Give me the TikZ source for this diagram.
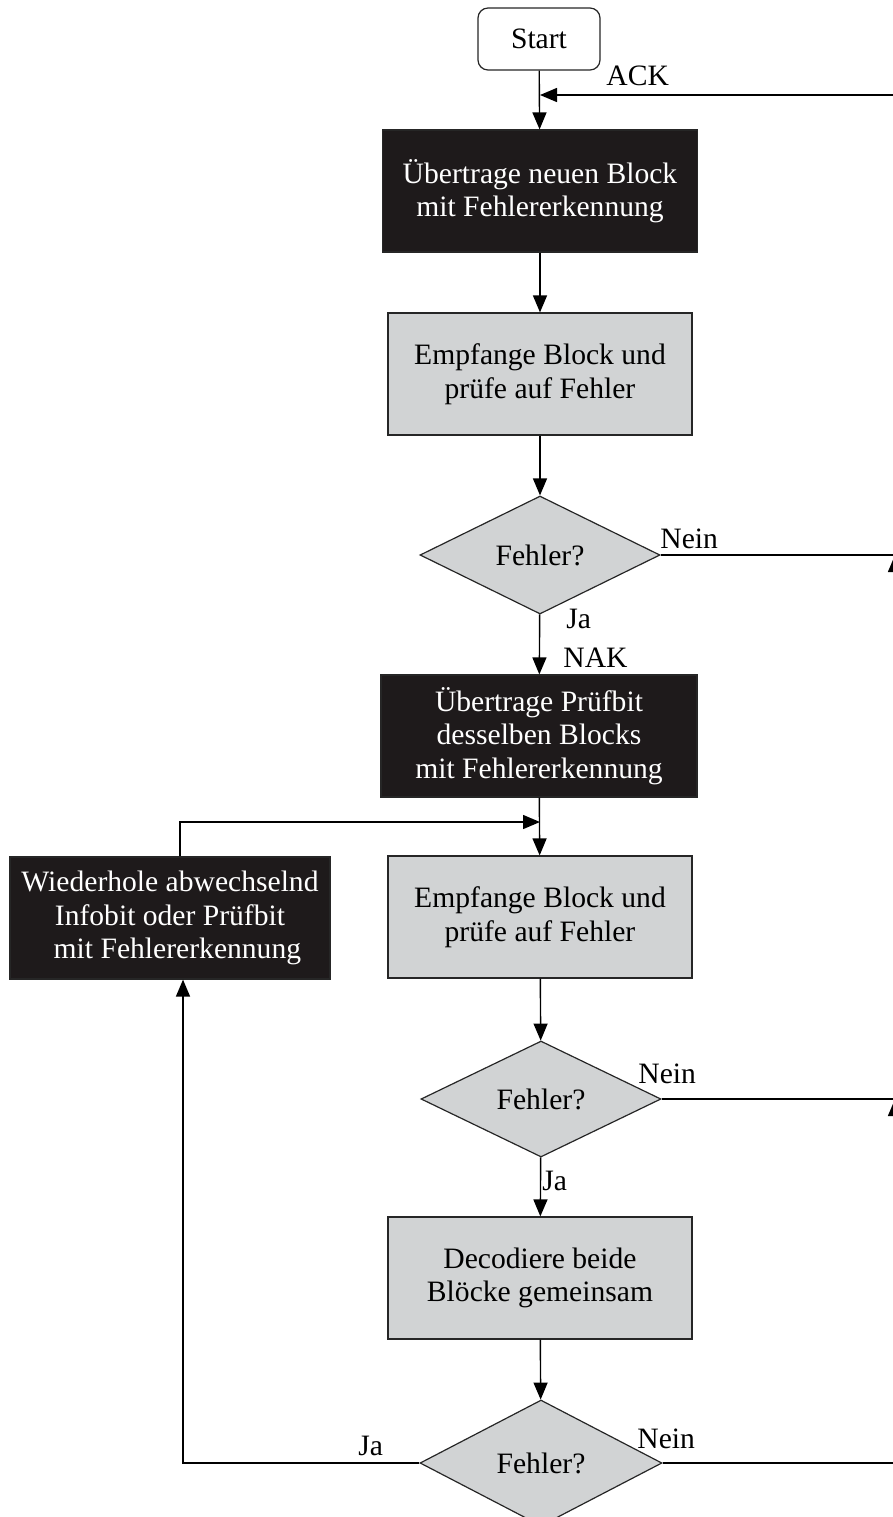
\documentclass[tikz,border=0pt]{standalone}
\usepackage{fontspec}
\setmainfont{Liberation Serif}
\usetikzlibrary{shapes.geometric,arrows.meta}
\definecolor{boxdark}{HTML}{1E1A1B}
\definecolor{boxlight}{HTML}{D1D3D4}
\begin{document}
\begin{tikzpicture}[x=0.5pt,y=-0.5pt,
  base/.style={draw=black!85, line width=0.6pt, inner sep=0pt, align=center,
    font=\fontsize{14.8}{16.8}\selectfont},
  darkbox/.style={base, rectangle, fill=boxdark, text=white, minimum height=61pt},
  lightbox/.style={base, rectangle, fill=boxlight, minimum height=61pt, minimum width=152pt},
  decision/.style={base, diamond, fill=boxlight},
  flow/.style={line width=0.7pt, -{Triangle[length=8.5pt,width=7pt]}},
  link/.style={line width=0.7pt},
  lbl/.style={font=\fontsize{14.8}{16.8}\selectfont, inner sep=0pt, anchor=base west}]
\useasboundingbox (0,0) rectangle (893,1517);
\clip (0,0) rectangle (893,1517);

% process steps
\node[base, rectangle, rounded corners=5pt, fill=white, minimum width=61pt, minimum height=31pt]
  (start) at (539,39) {Start};
\node[darkbox, minimum width=157.5pt] (send) at (540,191)
  {Übertrage neuen Block\\mit Fehlererkennung};
\node[lightbox] (recv1) at (540,374) {Empfange Block und\\prüfe auf Fehler};
\node[decision, minimum width=120pt, minimum height=59pt] (err1) at (540,555) {Fehler?};
\node[darkbox, minimum width=158pt] (parity) at (539,736)
  {Übertrage Prüfbit\\desselben Blocks\\mit Fehlererkennung};
\node[lightbox] (recv2) at (540,917) {Empfange Block und\\prüfe auf Fehler};
\node[darkbox, minimum width=160pt] (repeat) at (170,918)
  {Wiederhole abwechselnd\\Infobit oder Prüfbit\\\hspace{0.5em}mit Fehlererkennung};
\node[decision, minimum width=120pt, minimum height=58pt] (err2) at (541,1099) {Fehler?};
\node[lightbox] (decode) at (540,1278) {Decodiere beide\\Blöcke gemeinsam};
\node[decision, minimum width=121pt, minimum height=63pt] (err3) at (541,1463) {Fehler?};

% return line on the right
\coordinate (r0) at (895,95);
\coordinate (r1) at (err1.east -| r0);
\coordinate (r2) at (err2.east -| r0);
\coordinate (r3) at (err3.east -| r0);
\coordinate (ackin) at (540,95);
\coordinate (merge) at (540,822);
\coordinate (rtop) at (180,822);
\coordinate (rbot) at (183,1463);

% connectors
\draw[flow] (start) -- (send);
\draw[flow] (send) -- (recv1);
\draw[flow] (recv1) -- (err1);
\draw[flow] (err1) -- (parity);
\draw[flow] (parity) -- (recv2);
\draw[flow] (recv2) -- (err2);
\draw[flow] (err2) -- (decode);
\draw[flow] (decode) -- (err3);

\draw[link] (err1.east) -- (r1);
\draw[link] (err2.east) -- (r2);
\draw[flow] (err3.east) -- (r3) -- (r2);
\draw[flow] (r2) -- (r1);
\draw[flow] (r1) -- (r0) -- (ackin);

\draw[flow] (repeat.north -| rtop) -- (rtop) -- (merge);
\draw[flow] (err3.west) -- (rbot) -- (rbot |- repeat.south);

% labels
\node[lbl] (ack) at (606,85) {ACK};
\node[lbl] (nein1) at (660,548) {Nein};
\node[lbl] (ja1) at (566,628) {Ja};
\node[lbl] (nak) at (563,667) {NAK};
\node[lbl] (nein2) at (638,1083) {Nein};
\node[lbl] (ja2) at (542,1190) {Ja};
\node[lbl] (nein3) at (637,1448) {Nein};
\node[lbl] (ja3) at (358,1455) {Ja};
\end{tikzpicture}
\end{document}
